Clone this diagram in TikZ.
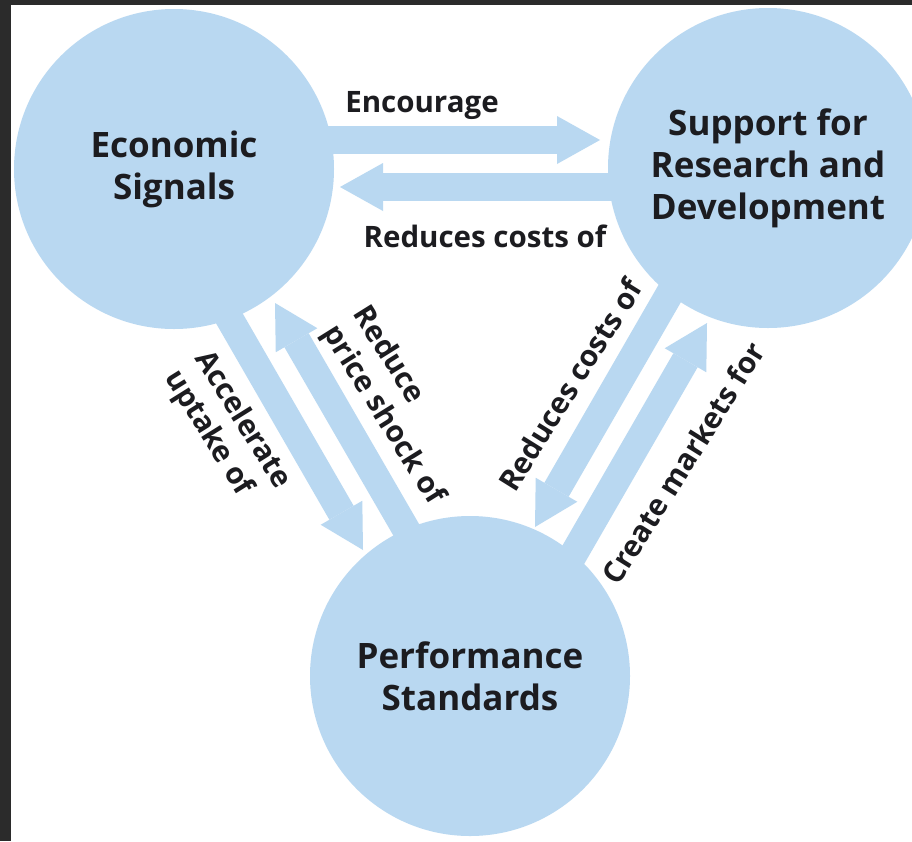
\documentclass[tikz,border=0pt]{standalone}
\usepackage{fontspec}
\setmainfont{Open Sans}
\usetikzlibrary{arrows.meta}
\definecolor{circfill}{RGB}{185,216,241}
\definecolor{txt}{RGB}{28,28,32}
\definecolor{framecol}{RGB}{43,43,43}
\begin{document}
\begin{tikzpicture}[x=1pt,y=-1pt,
  circ/.style={circle, fill=circfill, minimum size=320pt, inner sep=0pt, text=txt,
    align=center, font=\bfseries\fontsize{35}{42}\selectfont},
  barrow/.style={draw=circfill, line width=28pt,
    -{Triangle[length=43pt,width=48pt,line width=0pt]}},
  lbl/.style={text=txt, inner sep=0pt, font=\bfseries\fontsize{29.5}{36}\selectfont}]
\useasboundingbox (0,0) rectangle (912,841);
\clip (0,0) rectangle (912,841);
\fill[framecol] (0,0) rectangle (912,841);
\fill[white] (11,5) rectangle (912,841);

% circles
\node[circ] (es) at (174,169) {Economic\\Signals};
\node[circ] (rd) at (768,168) {Support for\\Research and\\Development};
\node[circ] (ps) at (470,676) {Performance\\Standards};

% arrow end points
\coordinate (encS) at (300,140);  \coordinate (encE) at (600,140);
\coordinate (redS) at (650,187);  \coordinate (redE) at (340,187);
\coordinate (accS) at (213,290);  \coordinate (accE) at (363,550);
\coordinate (prsS) at (415,545);  \coordinate (prsE) at (275,303);
\coordinate (rcS)  at (685,267);  \coordinate (rcE)  at (535,527);
\coordinate (cmS)  at (557,583);  \coordinate (cmE)  at (707,323);

\draw[barrow] (encS) -- (encE);
\draw[barrow] (redS) -- (redE);
\draw[barrow] (accS) -- (accE);
\draw[barrow] (prsS) -- (prsE);
\draw[barrow] (rcS) -- (rcE);
\draw[barrow] (cmS) -- (cmE);

% labels
\node[lbl, anchor=base] (lenc) at (422,112) {Encourage};
\node[lbl, anchor=base] (lred) at (485,247) {Reduces costs of};
\node[lbl, align=left, rotate=-58] (lacc) at (227,430) {Accelerate\\uptake of};
\node[lbl, align=left, rotate=-58] (lprs) at (398,406) {Reduce\\price shock of};
\node[lbl, rotate=58] (lrc) at (570,385) {Reduces costs of};
\node[lbl, rotate=58] (lcm) at (683,463) {Create markets for};
\end{tikzpicture}
\end{document}
